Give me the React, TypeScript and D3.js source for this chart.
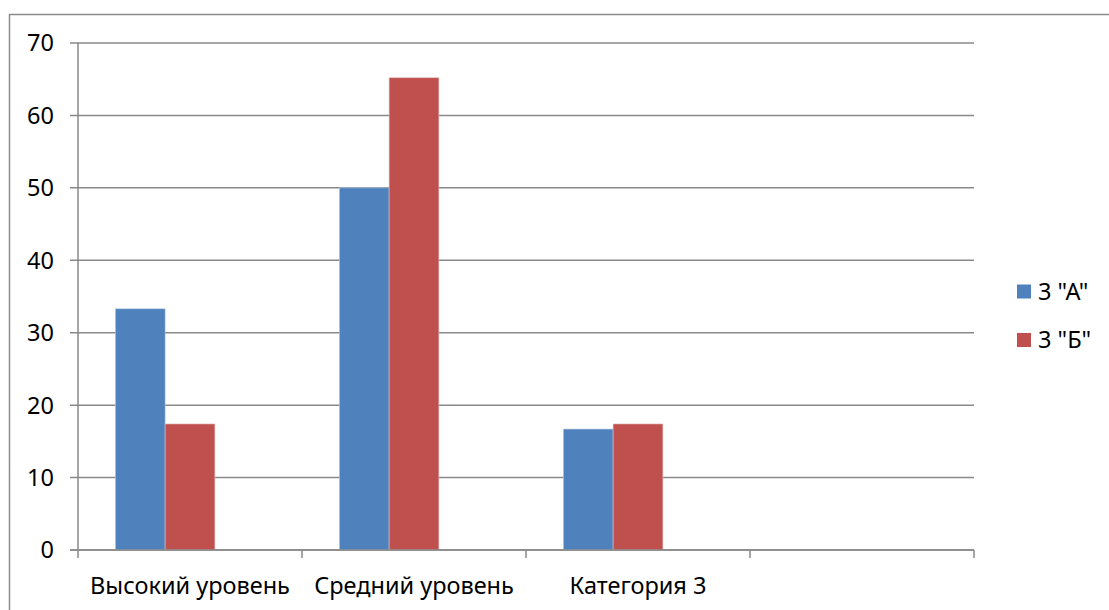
import { useEffect, useRef } from "react";
import * as d3 from "d3";

// categories (the fourth slot is empty in the source chart)
const CATEGORIES = ["Высокий уровень", "Средний уровень", "Категория 3", ""];
// series names; Excel reserves a third (empty) slot in every group
const SERIES = ['3 "А"', '3 "Б"'];
const SLOTS = ['3 "А"', '3 "Б"', "_empty"];
const VALUES_A = [33.3, 50, 16.7, null];
const VALUES_B = [17.4, 65.2, 17.4, null];
const Y_TICKS = [0, 10, 20, 30, 40, 50, 60, 70];
const COLORS = ["#4F81BD", "#C0504D"];

const FONT = "'Noto Sans', 'Open Sans', sans-serif";
const FONT_SIZE = 23.5;
const GRID = "#898989";

export default function App() {
  const ref = useRef<SVGSVGElement | null>(null);

  useEffect(() => {
    const svg = d3.select(ref.current);
    svg.selectAll("*").remove();

    const left = 78;
    const right = 974;
    const top = 43;
    const bottom = 550;

    // chart frame (right/bottom edges run off the picture)
    svg
      .append("rect")
      .attr("x", 9.5)
      .attr("y", 14.5)
      .attr("width", 1300)
      .attr("height", 800)
      .attr("fill", "white")
      .attr("stroke", "#8c8c8c")
      .attr("stroke-width", 1.5);

    const x = d3.scaleBand<string>().domain(CATEGORIES.map((_, i) => String(i))).range([left, right]);
    const inner = d3
      .scaleBand<string>()
      .domain(SLOTS)
      .range([0, x.bandwidth()])
      .paddingInner(0)
      .paddingOuter(0.75);
    const y = d3.scaleLinear().domain([0, 70]).range([bottom, top]);

    // gridlines + y ticks
    svg
      .append("g")
      .selectAll("line")
      .data(Y_TICKS)
      .join("line")
      .attr("x1", left - 8)
      .attr("x2", right)
      .attr("y1", (d) => y(d))
      .attr("y2", (d) => y(d))
      .attr("stroke", GRID)
      .attr("stroke-width", 1.5);

    svg
      .append("g")
      .selectAll("text")
      .data(Y_TICKS)
      .join("text")
      .attr("x", 54)
      .attr("y", (d) => y(d))
      .attr("dy", "0.36em")
      .attr("text-anchor", "end")
      .attr("font-family", FONT)
      .attr("font-size", FONT_SIZE)
      .attr("fill", "#000")
      .text((d) => d);

    // bars
    const series = [VALUES_A, VALUES_B];
    series.forEach((vals, si) => {
      svg
        .append("g")
        .selectAll("rect")
        .data(vals.map((v, i) => ({ v, i })).filter((d) => d.v != null))
        .join("rect")
        .attr("x", (d) => (x(String(d.i)) ?? 0) + (inner(SLOTS[si]) ?? 0))
        .attr("y", (d) => y(d.v as number))
        .attr("width", inner.bandwidth())
        .attr("height", (d) => bottom - y(d.v as number))
        .attr("fill", COLORS[si])
        .attr("stroke", si === 0 ? "#b9cde5" : "#e6b9b8")
        .attr("stroke-width", 0.6);
    });

    // axes
    svg
      .append("line")
      .attr("x1", left)
      .attr("x2", left)
      .attr("y1", top)
      .attr("y2", bottom)
      .attr("stroke", GRID)
      .attr("stroke-width", 1.5);
    svg
      .append("line")
      .attr("x1", left - 8)
      .attr("x2", right)
      .attr("y1", bottom)
      .attr("y2", bottom)
      .attr("stroke", GRID)
      .attr("stroke-width", 1.5);
    const catTicks = [...CATEGORIES.map((_, i) => x(String(i)) ?? 0), right];
    svg
      .append("g")
      .selectAll("line")
      .data(catTicks)
      .join("line")
      .attr("x1", (d) => d)
      .attr("x2", (d) => d)
      .attr("y1", bottom)
      .attr("y2", bottom + 8)
      .attr("stroke", GRID)
      .attr("stroke-width", 1.5);

    svg
      .append("g")
      .selectAll("text")
      .data(CATEGORIES)
      .join("text")
      .attr("x", (_, i) => (x(String(i)) ?? 0) + x.bandwidth() / 2)
      .attr("y", 594)
      .attr("text-anchor", "middle")
      .attr("font-family", FONT)
      .attr("font-size", FONT_SIZE)
      .attr("fill", "#000")
      .text((d) => d);

    // legend
    const legend = svg
      .append("g")
      .selectAll("g")
      .data(SERIES)
      .join("g")
      .attr("transform", (_, i) => `translate(1017,${291.5 + i * 48.5})`);
    legend
      .append("rect")
      .attr("x", 0)
      .attr("y", -7)
      .attr("width", 14)
      .attr("height", 14)
      .attr("fill", (_, i) => COLORS[i]);
    legend
      .append("text")
      .attr("x", 21)
      .attr("y", 0)
      .attr("dy", "0.36em")
      .attr("font-family", FONT)
      .attr("font-size", FONT_SIZE)
      .attr("fill", "#000")
      .text((d) => d);
  }, []);

  return (
    <svg
      ref={ref}
      width={1109}
      height={610}
      style={{ position: "absolute", left: 0, top: 0, display: "block", background: "white" }}
    />
  );
}
